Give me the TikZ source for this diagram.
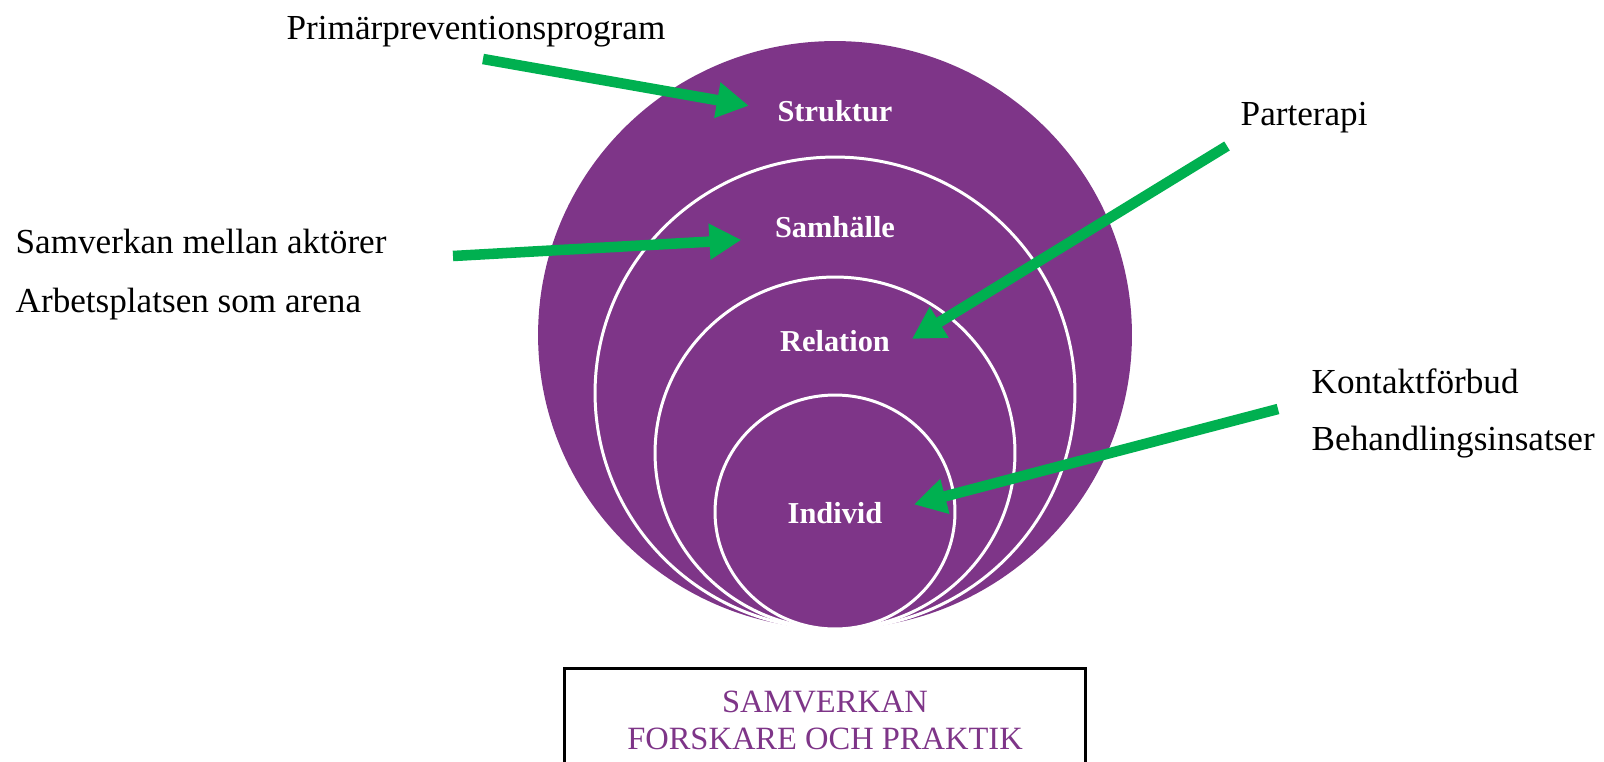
\documentclass[tikz,border=0pt]{standalone}
\usepackage{fontspec}
\setmainfont{Liberation Serif}
\usetikzlibrary{arrows.meta, shapes.geometric}
\definecolor{lila}{RGB}{126,53,136}
\definecolor{gron}{RGB}{0,176,80}

\begin{document}
\begin{tikzpicture}[x=0.02cm,y=-0.02cm,thick]
		\tikzstyle{ring}=[ellipse,fill=lila,draw=white,line width=1.7pt,inner sep=0pt]
		\tikzstyle{niva}=[anchor=base,inner sep=0pt,text=white,font=\bfseries\fontsize{17.3}{20}\selectfont]
		\tikzstyle{etikett}=[anchor=base west,inner sep=0pt,font=\fontsize{20}{24}\selectfont]
		\tikzstyle{pil}=[draw=gron,line width=6pt,-{Triangle[length=0.64cm,width=0.68cm,fill=gron,color=gron]}]
		
		\useasboundingbox (0,0) rectangle (1604,761);
		\clip (0,0) rectangle (1604,761);
		
		\node[ring,draw=none,minimum width=11.88cm,minimum height=11.76cm] (r_struktur) at (835,335) {};
		\node[ring,minimum width=9.6cm,minimum height=9.44cm] (r_samhalle) at (835,393) {};
		\node[ring,minimum width=7.2cm,minimum height=7.04cm] (r_relation) at (835,453) {};
		\node[ring,minimum width=4.8cm,minimum height=4.68cm] (r_individ) at (835,512) {};
		
		\node[niva] (struktur) at (835,121) {Struktur};
		\node[niva] (samhalle) at (835,237) {Samhälle};
		\node[niva] (relation) at (835,351) {Relation};
		\node[niva] (individ) at (835,523) {Individ};
		
		\node[etikett] (prim) at (286,39) {Primärpreventionsprogram};
		\node[etikett] (samv) at (15,253) {Samverkan mellan aktörer};
		\node[etikett] (arb) at (15,312) {Arbetsplatsen som arena};
		\node[etikett] (par) at (1240,125) {Parterapi};
		\node[etikett] (kont) at (1311,393) {Kontaktförbud};
		\node[etikett] (beh) at (1311,450) {Behandlingsinsatser};
		
		\node[draw=black,line width=1.7pt,anchor=north,minimum width=10.44cm,align=center,
		text=lila,inner ysep=13pt,font=\fontsize{18.5}{21}\selectfont] (samverkan) at (825,667)
		{SAMVERKAN\\FORSKARE OCH PRAKTIK};
		
		\coordinate (p_prim) at (483,59);
		\coordinate (p_samv) at (453,256);
		\coordinate (p_par) at (1227,146);
		\coordinate (p_kont) at (1278,409);
		
		\path
		(p_prim) edge [pil,shorten >=0.57cm] (struktur.west)
		(p_samv) edge [pil,shorten >=0.66cm] (samhalle.south west)
		(p_par) edge [pil,shorten >=0.5cm] (relation.south east)
		(p_kont) edge [pil,shorten >=0.64cm] (individ.east);
		
\end{tikzpicture}
\end{document}
